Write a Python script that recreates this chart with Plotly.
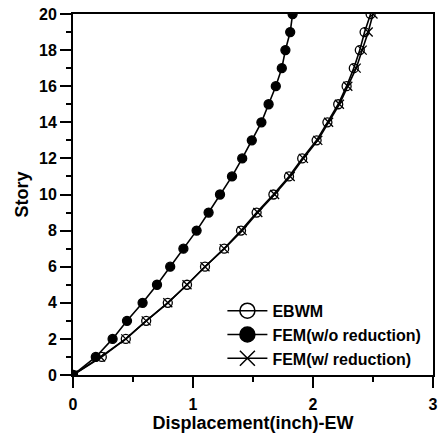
import plotly.graph_objects as go

story = list(range(0, 21))
ebwm = [0, 0.24, 0.44, 0.61, 0.79, 0.95, 1.10, 1.26, 1.40, 1.53, 1.67, 1.80,
        1.91, 2.03, 2.12, 2.21, 2.28, 2.34, 2.39, 2.43, 2.48]
fem_wo = [0, 0.19, 0.33, 0.45, 0.58, 0.70, 0.81, 0.92, 1.03, 1.13, 1.225, 1.325,
          1.41, 1.49, 1.57, 1.63, 1.69, 1.74, 1.77, 1.81, 1.83]
fem_w = [0, 0.23, 0.44, 0.61, 0.79, 0.95, 1.10, 1.26, 1.41, 1.54, 1.68, 1.81,
         1.92, 2.04, 2.13, 2.22, 2.29, 2.36, 2.41, 2.46, 2.50]

names = ["EBWM", "FEM(w/o reduction)", "FEM(w/ reduction)"]
series = [ebwm, fem_wo, fem_w]
symbols = ["circle-open", "circle", "x-thin-open"]

fig = go.Figure()
for name, xs, sym in zip(names, series, symbols):
    fig.add_trace(go.Scatter(
        x=xs, y=story, mode="lines+markers", name=name, showlegend=False,
        line=dict(color="black", width=1.6),
        marker=dict(symbol=sym, size=9, color="black",
                    line=dict(color="black", width=1.3)),
    ))
for name, sym in zip(names, symbols):
    fig.add_trace(go.Scatter(
        x=[None], y=[None], mode="lines+markers", name=name,
        line=dict(color="black", width=1.6),
        marker=dict(symbol=sym, size=15, color="black",
                    line=dict(color="black", width=1.5)),
    ))

font = dict(family="Arial", size=16, color="black", weight="bold")
title_font = dict(family="Arial", size=18, color="black", weight="bold")
fig.update_xaxes(range=[0, 3], dtick=1, tick0=0,
                 showgrid=False, zeroline=False, showline=True, linecolor="black",
                 linewidth=2, mirror=True, automargin=False,
                 ticks="outside", ticklen=11, tickwidth=2, tickcolor="black",
                 tickfont=font, ticklabelstandoff=3,
                 minor=dict(dtick=0.5, ticks="outside", ticklen=5,
                            tickcolor="black", tickwidth=2),
                 title=dict(text="Displacement(inch)-EW", font=title_font, standoff=2))
fig.update_yaxes(range=[0, 20], dtick=2, tick0=0,
                 showgrid=False, zeroline=False, showline=True, linecolor="black",
                 linewidth=2, mirror=True, automargin=False,
                 ticks="outside", ticklen=11, tickwidth=2, tickcolor="black",
                 tickfont=font,
                 minor=dict(dtick=1, ticks="outside", ticklen=5,
                            tickcolor="black", tickwidth=2),
                 title=dict(text="Story", font=title_font, standoff=6))

fig.update_layout(
    template="simple_white",
    width=442, height=434,
    margin=dict(l=73, r=9, t=14, b=59),
    legend=dict(x=0.415, y=0.225, xanchor="left", yanchor="top",
                bgcolor="rgba(0,0,0,0)", font=font, tracegroupgap=0,
                itemwidth=40),
)
fig.write_html("out.html")
